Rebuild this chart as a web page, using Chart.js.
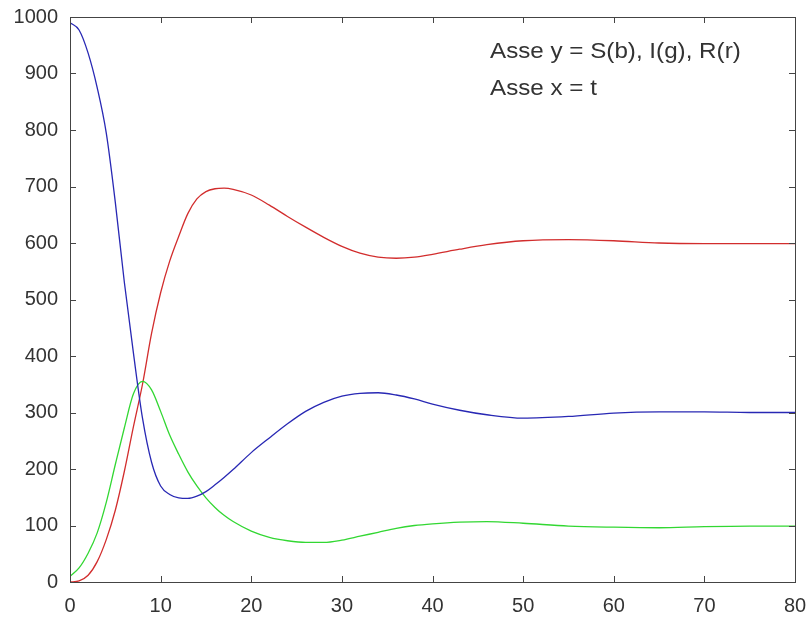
<!DOCTYPE html>
<html>
<head>
<meta charset="utf-8">
<script src="https://cdn.jsdelivr.net/npm/chart.js@4/dist/chart.umd.min.js"></script>
<style>
  html, body { margin: 0; padding: 0; background: #fff; }
  #wrap { width: 810px; height: 619px; }
</style>
</head>
<body>
<div id="wrap"><canvas id="sir_canvas" width="810" height="619"></canvas></div>
<script>

// time values (x axis)
var t_values = [0,1,2,3,4,5,6,7,8,9,10,11,12,13,14,15,16,17,18,20,22,24,26,28,30,32,34,36,38,40,43,46,50,55,60,65,70,75,80];

// S (blue)
var s_values = [990,977,936,875,795,672,530,405,290,212,170,155,149,148,152,160,172,185,199,229,255,280,302,318,329,334,335,331,324,315,304,296,290,293,299,301,301,300,300];

// I (green)
var i_values = [10,25,51,87,141,208,273,333,355,340,302,260,226,195,170,149,132,118,107,90,79,73,70,70,74,81,88,95,100,103,106,107,104,99,97,96,98,99,99];

// R (red)
var r_values = [0,2,12,36,75,127,196,275,350,440,512,568,612,652,678,691,696,697,695,685,667,647,628,610,594,582,575,573,575,580,589,597,604,606,604,600,599,599,599];

var x_ticks = [0,10,20,30,40,50,60,70,80];
var y_ticks = [0,100,200,300,400,500,600,700,800,900,1000];

var note_lines = ['Asse y = S(b), I(g), R(r)', 'Asse x = t'];

var to_points = function(xs, ys)
{
  var pts = [];
  for (var i = 0; i < xs.length; i++)
  {
    pts.push({x: xs[i], y: ys[i]});
  }
  return pts;
};

var make_dataset = function(label, values, color)
{
  return {
    label: label,
    data: to_points(t_values, values),
    borderColor: color,
    borderWidth: 1.3,
    pointRadius: 0,
    fill: false,
    cubicInterpolationMode: 'monotone'
  };
};

// box around the plot with inward ticks, matlab style
var box_plugin = {
  id: 'box_plugin',
  afterDatasetsDraw: function(chart)
  {
    var ctx = chart.ctx;
    var area = chart.chartArea;
    var xs = chart.scales.x;
    var ys = chart.scales.y;
    var tick_len = 6;

    ctx.save();
    ctx.strokeStyle = '#444';
    ctx.lineWidth = 1;
    ctx.strokeRect(Math.round(area.left) + 0.5, Math.round(area.top) + 0.5,
                   Math.round(area.right - area.left), Math.round(area.bottom - area.top));

    ctx.beginPath();
    x_ticks.forEach(function(v)
    {
      var px = Math.round(xs.getPixelForValue(v)) + 0.5;
      ctx.moveTo(px, area.bottom); ctx.lineTo(px, area.bottom - tick_len);
      ctx.moveTo(px, area.top); ctx.lineTo(px, area.top + tick_len);
    });
    y_ticks.forEach(function(v)
    {
      var py = Math.round(ys.getPixelForValue(v)) + 0.5;
      ctx.moveTo(area.left, py); ctx.lineTo(area.left + tick_len, py);
      ctx.moveTo(area.right, py); ctx.lineTo(area.right - tick_len, py);
    });
    ctx.stroke();

    // text note in the upper right (slightly wide, like the original)
    ctx.fillStyle = '#333';
    ctx.font = '22px "Liberation Sans", Arial, sans-serif';
    ctx.textAlign = 'left';
    ctx.textBaseline = 'alphabetic';
    ctx.translate(490, 0);
    ctx.scale(1.1, 1);
    ctx.fillText(note_lines[0], 0, 58);
    ctx.fillText(note_lines[1], 0, 95);
    ctx.restore();
  }
};

var tick_font = { family: '"Liberation Sans", Arial, sans-serif', size: 20 };

new Chart(document.getElementById('sir_canvas').getContext('2d'), {
  type: 'line',
  data: {
    datasets: [
      make_dataset('S', s_values, 'rgb(40,40,180)'),
      make_dataset('I', i_values, 'rgb(50,215,50)'),
      make_dataset('R', r_values, 'rgb(210,45,45)')
    ]
  },
  options: {
    responsive: false,
    animation: false,
    layout: { padding: { top: 17, right: 15, left: 0, bottom: 0 } },
    plugins: {
      legend: { display: false },
      tooltip: { enabled: false }
    },
    scales: {
      x: {
        type: 'linear',
        min: 0,
        max: 80,
        grid: { display: false, drawTicks: false },
        border: { display: false },
        afterBuildTicks: function(scale) { scale.ticks = x_ticks.map(function(v) { return {value: v}; }); },
        afterFit: function(scale)
        {
          scale.height = 37;
          scale.paddingLeft = 0;
          scale.paddingRight = 0;
        },
        ticks: { color: '#333', font: tick_font, padding: 12, maxRotation: 0, autoSkip: false,
                 callback: function(v) { return String(v); } }
      },
      y: {
        min: 0,
        max: 1000,
        grid: { display: false, drawTicks: false },
        border: { display: false },
        afterBuildTicks: function(scale) { scale.ticks = y_ticks.map(function(v) { return {value: v}; }); },
        afterFit: function(scale)
        {
          scale.width = 70;
          scale.paddingTop = 0;
          scale.paddingBottom = 0;
        },
        ticks: { color: '#333', font: tick_font, padding: 12, autoSkip: false,
                 callback: function(v) { return String(v); } }
      }
    }
  },
  plugins: [box_plugin]
});

</script>
</body>
</html>
